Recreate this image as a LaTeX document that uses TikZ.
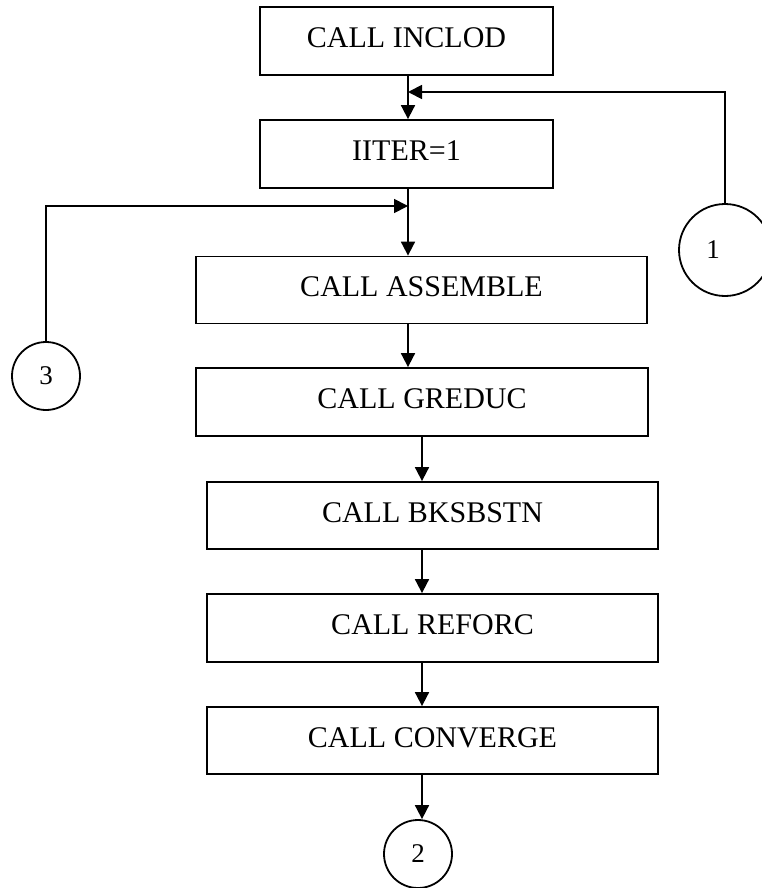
\documentclass[tikz,border=0pt]{standalone}
\usepackage{fontspec}
\setmainfont{Liberation Serif}
\usetikzlibrary{arrows.meta}

\begin{document}
\begin{tikzpicture}[x=1pt,y=-1pt,
  every path/.style={line width=1.8pt},
  stepbox/.style={draw, rectangle, inner sep=0pt, line width=1.8pt,
    font=\fontsize{30}{36}\selectfont, text depth=6pt},
  connector/.style={draw, circle, inner sep=0pt, line width=1.8pt,
    font=\fontsize{27}{32}\selectfont},
  arr/.style={-{Triangle[length=14pt,width=14pt]}, line width=1.8pt}
]
\useasboundingbox (0,0) rectangle (762,888);

% process boxes
\node[stepbox, minimum width=293pt, minimum height=68pt] (inclod)   at (406.5,41)  {CALL INCLOD};
\node[stepbox, minimum width=293pt, minimum height=68pt] (iiter)    at (406.5,154) {IITER=1};
\node[stepbox, minimum width=451pt, minimum height=67pt] (assemble) at (421.5,290) {CALL ASSEMBLE};
\node[stepbox, minimum width=452pt, minimum height=68pt] (greduc)   at (422,402)   {CALL GREDUC};
\node[stepbox, minimum width=451pt, minimum height=67pt] (bksbstn)  at (432.5,515.5) {CALL BKSBSTN};
\node[stepbox, minimum width=451pt, minimum height=68pt] (reforc)   at (432.5,628) {CALL REFORC};
\node[stepbox, minimum width=451pt, minimum height=67pt] (converge) at (432.5,740.5) {CALL CONVERGE};

% off-page connectors
\node[connector, minimum size=92pt,
      label={[font=\fontsize{27}{32}\selectfont, xshift=-12pt]center:1}] (c1) at (725,250) {};
\node[connector, minimum size=68pt] (c3) at (46,376) {3};
\node[connector, minimum size=68pt] (c2) at (418,854) {2};

% flow axes and junctions
\coordinate (axisA) at (408,0);
\coordinate (axisB) at (422,0);
\coordinate (j1) at (408,92);
\coordinate (j3) at (408,206);

% main flow
\draw[arr] (inclod.south -| axisA) -- (iiter.north -| axisA);
\draw[arr] (iiter.south -| axisA) -- (assemble.north -| axisA);
\draw[arr] (assemble.south -| axisA) -- (greduc.north -| axisA);
\draw[arr] (greduc.south -| axisB) -- (bksbstn.north -| axisB);
\draw[arr] (bksbstn.south -| axisB) -- (reforc.north -| axisB);
\draw[arr] (reforc.south -| axisB) -- (converge.north -| axisB);
\draw[arr] (converge.south -| axisB) -- (c2.north -| axisB);

% return loops
\draw[arr] (c1.north) |- (j1);
\draw[arr] (c3.north) |- (j3);
\end{tikzpicture}
\end{document}
